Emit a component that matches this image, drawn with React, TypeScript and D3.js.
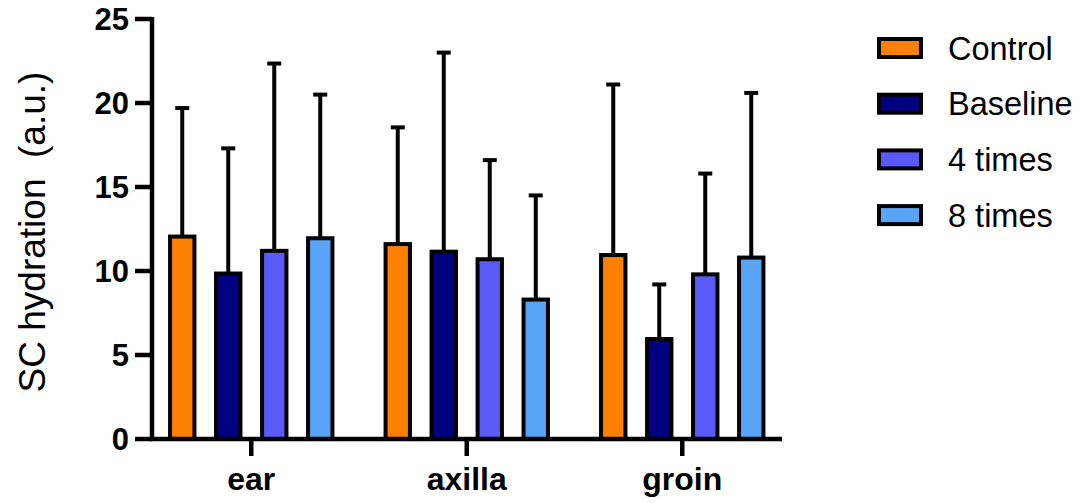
import React from 'react';
import * as d3 from 'd3';

const sites = ['ear', 'axilla', 'groin'];
const groups = ['Control', 'Baseline', '4 times', '8 times'];
const colors = ['#ff8000', '#000080', '#5a5af8', '#57a4f8'];

// mean per group, by site
const means = [
  [12.05, 9.85, 11.2, 11.95],
  [11.6, 11.15, 10.7, 8.3],
  [10.95, 5.95, 9.8, 10.8],
];
// top of the error bar (mean + SD), by site
const upper = [
  [19.7, 17.3, 22.35, 20.5],
  [18.55, 23.0, 16.6, 14.5],
  [21.1, 9.2, 15.8, 20.6],
];
const yTicks = [0, 5, 10, 15, 20, 25];

const FONT = '"Liberation Sans", Arial, Helvetica, sans-serif';

export default function App() {
  const width = 1084;
  const height = 503;
  const axisX = 152;
  const axisEnd = 782;

  const y = d3.scaleLinear().domain([0, 25]).range([439, 19]);
  const x0 = d3.scaleBand().domain(sites).range([143.5, 790]).padding(0);
  const x1 = d3
    .scaleBand()
    .domain(groups)
    .range([-92, 92])
    .paddingInner(0.47)
    .paddingOuter(0.235);

  const bw = x1.bandwidth();
  const capW = 14;

  return (
    <svg width={width} height={height} style={{ display: 'block', position: 'absolute', left: 0, top: 0 }}>
      <rect width={width} height={height} fill="#fff" />

      {/* bars + error bars */}
      {sites.map((s, si) => (
        <g key={s} transform={`translate(${x0(s)! + x0.bandwidth() / 2},0)`}>
          {groups.map((gName, gi) => {
            const bx = x1(gName)!;
            const cx = bx + bw / 2;
            const top = y(means[si][gi]);
            const err = y(upper[si][gi]);
            return (
              <g key={gName}>
                <line x1={cx} x2={cx} y1={top} y2={err} stroke="#000" strokeWidth={4} />
                <line x1={cx - capW / 2} x2={cx + capW / 2} y1={err} y2={err} stroke="#000" strokeWidth={4} />
                <rect
                  x={bx}
                  y={top}
                  width={bw}
                  height={y(0) - top}
                  fill={colors[gi]}
                  stroke="#000"
                  strokeWidth={4}
                />
              </g>
            );
          })}
        </g>
      ))}

      {/* y axis */}
      <line x1={axisX} x2={axisX} y1={y(25) - 2} y2={y(0) + 2} stroke="#000" strokeWidth={4.5} />
      {yTicks.map((t) => (
        <g key={t}>
          <line x1={135} x2={axisX} y1={y(t)} y2={y(t)} stroke="#000" strokeWidth={4.5} />
          <text
            x={129}
            y={y(t)}
            dy="0.36em"
            textAnchor="end"
            fontFamily={FONT}
            fontWeight="bold"
            fontSize={31}
          >
            {t}
          </text>
        </g>
      ))}

      {/* x axis */}
      <line x1={axisX - 2} x2={axisEnd} y1={y(0)} y2={y(0)} stroke="#000" strokeWidth={4.5} />
      {sites.map((s) => {
        const cx = x0(s)! + x0.bandwidth() / 2;
        return (
          <g key={s}>
            <line x1={cx} x2={cx} y1={y(0)} y2={y(0) + 17} stroke="#000" strokeWidth={4.5} />
            <text x={cx} y={490} textAnchor="middle" fontFamily={FONT} fontWeight="bold" fontSize={32}>
              {s}
            </text>
          </g>
        );
      })}

      {/* y label */}
      <text
        transform={`translate(45,232) rotate(-90)`}
        textAnchor="middle"
        fontFamily={FONT}
        fontSize={37}
        style={{ whiteSpace: 'pre' }}
      >
        {'SC hydration  (a.u.)'}
      </text>

      {/* legend */}
      {groups.map((gName, gi) => {
        const cy = 48 + gi * 55.7;
        return (
          <g key={gName}>
            <rect x={879} y={cy - 9} width={42} height={18} fill={colors[gi]} stroke="#000" strokeWidth={4} />
            <text x={948} y={cy} dy="0.36em" fontFamily={FONT} fontSize={32.5}>
              {gName}
            </text>
          </g>
        );
      })}
    </svg>
  );
}
